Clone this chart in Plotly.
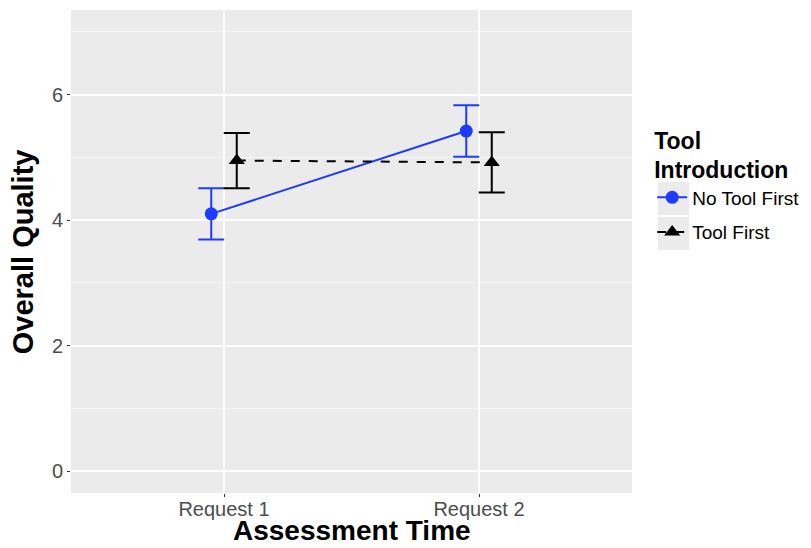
import plotly.graph_objects as go

categories = ["Request 1", "Request 2"]
no_tool_mean = [4.10, 5.42]
no_tool_err = [0.41, 0.41]
tool_mean = [4.95, 4.92]
tool_err = [0.44, 0.48]
y_ticks = [0, 2, 4, 6]

dodge = 0.05
x_base = [i + 1 for i in range(len(categories))]

fig = go.Figure()
fig.add_trace(go.Scatter(
    x=[v - dodge for v in x_base], y=no_tool_mean, name="No Tool First",
    mode="lines+markers", legendgroup="a",
    line=dict(color="#1f3bff", width=2),
    marker=dict(symbol="circle", size=13, color="#1f3bff"),
    error_y=dict(type="data", array=no_tool_err, color="#1f3bff", thickness=2, width=13),
))
fig.add_trace(go.Scatter(
    x=[v + dodge for v in x_base], y=tool_mean, name="Tool First",
    mode="lines+markers", legendgroup="b",
    line=dict(color="black", width=2, dash="dash"),
    marker=dict(symbol="triangle-up", size=14, color="black"),
    error_y=dict(type="data", array=tool_err, color="black", thickness=2, width=13),
))

# grey legend key backgrounds (ggplot style)
for y0, y1 in [(0.5756, 0.6439), (0.503, 0.5714)]:
    fig.add_shape(type="rect", xref="paper", yref="paper",
                  x0=1.046, x1=1.102, y0=y0, y1=y1,
                  fillcolor="#ebebeb", line=dict(width=0), layer="below")

fig.add_annotation(text="<b>Assessment Time</b>", xref="paper", yref="paper",
                   x=0.5, y=-0.1135, xanchor="center", yanchor="bottom", showarrow=False,
                   font=dict(size=28, color="black"))
fig.add_annotation(text="<b>Overall Quality</b>", xref="paper", yref="paper",
                   x=-0.086, y=0.5, xanchor="center", yanchor="middle", showarrow=False,
                   textangle=-90, font=dict(size=29, color="black"))

fig.update_layout(
    width=803, height=540,
    margin=dict(l=63, r=179, t=2, b=55),
    paper_bgcolor="white", plot_bgcolor="#ebebeb",
    font=dict(family="Liberation Sans, Arial, sans-serif"),
    legend=dict(
        x=1.036, y=0.775, xanchor="left", yanchor="top",
        title=dict(text="<b>Tool<br>Introduction</b>", font=dict(size=23, color="black")),
        font=dict(size=19, color="black"),
        itemwidth=30, tracegroupgap=7, traceorder="grouped", bgcolor="rgba(0,0,0,0)",
    ),
    xaxis=dict(
        range=[0.4, 2.6], tickvals=x_base, ticktext=categories,
        showgrid=True, gridcolor="white", gridwidth=1.5, zeroline=False,
        ticks="outside", ticklen=3, tickcolor="#333333", ticklabelstandoff=-5,
        tickfont=dict(size=20, color="#4d4d4d"),
    ),
    yaxis=dict(
        range=[-0.35, 7.35], tickvals=y_ticks,
        showgrid=True, gridcolor="white", gridwidth=1.5, zeroline=False,
        ticks="outside", ticklen=3, tickcolor="#333333",
        tickfont=dict(size=20, color="#4d4d4d"),
        minor=dict(tickvals=[1, 3, 5, 7], showgrid=True, gridcolor="#f5f5f5", gridwidth=0.8, ticks=""),
    ),
)

fig.write_html("out.html")
